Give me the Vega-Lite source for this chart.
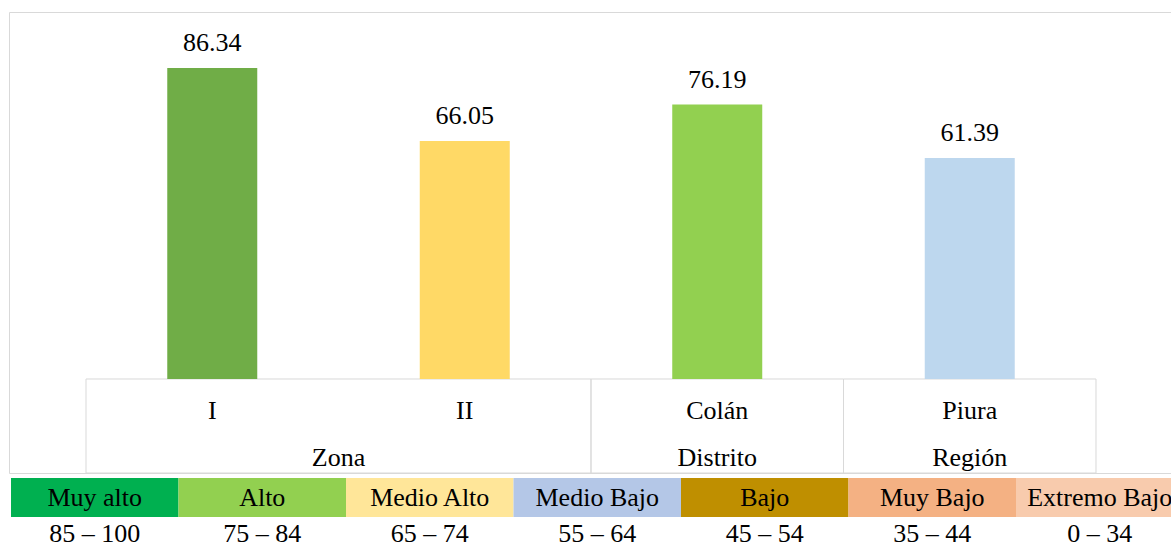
{
  "$schema": "https://vega.github.io/schema/vega-lite/v6.json",
  "background": "white",
  "padding": {"left": 8, "top": 11, "right": 0, "bottom": 0},
  "spacing": 4,
  "resolve": {"scale": {"color": "independent", "x": "independent", "y": "independent"}},
  "config": {"font": "Liberation Serif", "view": {"stroke": null}, "text": {"font": "Liberation Serif"}},
  "vconcat": [
    {
      "width": 1164,
      "height": 461,
      "view": {"stroke": "#d9d9d9", "strokeWidth": 1},
      "data": {"values": [
        {"cat": "I", "valor": 86.34},
        {"cat": "II", "valor": 66.05},
        {"cat": "Colán", "valor": 76.19},
        {"cat": "Piura", "valor": 61.39}
      ]},
      "encoding": {
        "x": {"field": "cat", "type": "nominal", "axis": null,
              "scale": {"type": "band", "domain": ["I", "II", "Colán", "Piura"], "paddingInner": 0, "paddingOuter": 0.305}}
      },
      "layer": [
        {
          "data": {"values": [
            {"cat": "I", "fin": "II"},
            {"cat": "Colán", "fin": "Colán"},
            {"cat": "Piura", "fin": "Piura"}
          ]},
          "mark": {"type": "rect", "fill": null, "stroke": "#d9d9d9", "strokeWidth": 1},
          "encoding": {
            "x": {"field": "cat", "type": "nominal", "bandPosition": 0, "axis": null,
                  "scale": {"type": "band", "domain": ["I", "II", "Colán", "Piura"], "paddingInner": 0, "paddingOuter": 0.305}},
            "x2": {"field": "fin", "bandPosition": 1},
            "y": {"datum": 0, "type": "quantitative", "axis": null, "scale": {"domain": [-26.1, 101.9], "zero": false, "nice": false}},
            "y2": {"datum": -26.1}
          }
        },
        {
          "mark": {"type": "bar", "width": 90},
          "encoding": {
            "y": {"field": "valor", "type": "quantitative", "axis": null},
            "color": {"field": "cat", "type": "nominal", "legend": null,
                      "scale": {"domain": ["I", "II", "Colán", "Piura"], "range": ["#70AD47", "#FFD966", "#92D050", "#BDD7EE"]}}
          }
        },
        {
          "mark": {"type": "text", "font": "Liberation Serif", "fontSize": 26, "baseline": "alphabetic", "dy": -17, "color": "#000000"},
          "encoding": {
            "y": {"field": "valor", "type": "quantitative"},
            "text": {"field": "valor", "type": "quantitative", "format": ".2f"}
          }
        },
        {
          "mark": {"type": "text", "font": "Liberation Serif", "fontSize": 26, "baseline": "alphabetic", "color": "#000000"},
          "encoding": {
            "y": {"datum": -11.1, "type": "quantitative"},
            "text": {"field": "cat", "type": "nominal"}
          }
        },
        {
          "data": {"values": [{"cat": "I", "grupo": "Zona"}]},
          "mark": {"type": "text", "font": "Liberation Serif", "fontSize": 26, "baseline": "alphabetic", "color": "#000000"},
          "encoding": {
            "x": {"field": "cat", "type": "nominal", "bandPosition": 1},
            "y": {"datum": -24.2, "type": "quantitative"},
            "text": {"field": "grupo", "type": "nominal"}
          }
        },
        {
          "data": {"values": [{"cat": "Colán", "grupo": "Distrito"}, {"cat": "Piura", "grupo": "Región"}]},
          "mark": {"type": "text", "font": "Liberation Serif", "fontSize": 26, "baseline": "alphabetic", "color": "#000000"},
          "encoding": {
            "y": {"datum": -24.2, "type": "quantitative"},
            "text": {"field": "grupo", "type": "nominal"}
          }
        }
      ]
    },
    {
      "width": 1176.5,
      "height": 39,
      "data": {"values": [
        {"nivel": "Muy alto", "rango": "85 – 100"},
        {"nivel": "Alto", "rango": "75 – 84"},
        {"nivel": "Medio Alto", "rango": "65 – 74"},
        {"nivel": "Medio Bajo", "rango": "55 – 64"},
        {"nivel": "Bajo", "rango": "45 – 54"},
        {"nivel": "Muy Bajo", "rango": "35 – 44"},
        {"nivel": "Extremo Bajo", "rango": "0 – 34"}
      ]},
      "encoding": {
        "x": {"field": "rango", "type": "nominal", "title": null,
              "scale": {"type": "band", "domain": ["85 – 100", "75 – 84", "65 – 74", "55 – 64", "45 – 54", "35 – 44", "0 – 34"], "paddingInner": 0, "paddingOuter": 0.012},
              "axis": {"orient": "bottom", "domain": false, "ticks": false, "tickSize": 0, "labelAngle": 0,
                       "labelFont": "Liberation Serif", "labelFontSize": 26, "labelColor": "#000000",
                       "labelBaseline": "alphabetic", "labelPadding": 24}}
      },
      "layer": [
        {
          "mark": {"type": "bar", "width": {"band": 1}},
          "encoding": {
            "color": {"field": "nivel", "type": "nominal", "legend": null,
                      "scale": {"domain": ["Muy alto", "Alto", "Medio Alto", "Medio Bajo", "Bajo", "Muy Bajo", "Extremo Bajo"],
                                "range": ["#00B050", "#92D050", "#FFE699", "#B4C7E7", "#BF8F00", "#F4B183", "#F8CBAD"]}}
          }
        },
        {
          "mark": {"type": "text", "font": "Liberation Serif", "fontSize": 26, "baseline": "middle", "color": "#000000"},
          "encoding": {
            "text": {"field": "nivel", "type": "nominal"}
          }
        }
      ]
    }
  ]
}
